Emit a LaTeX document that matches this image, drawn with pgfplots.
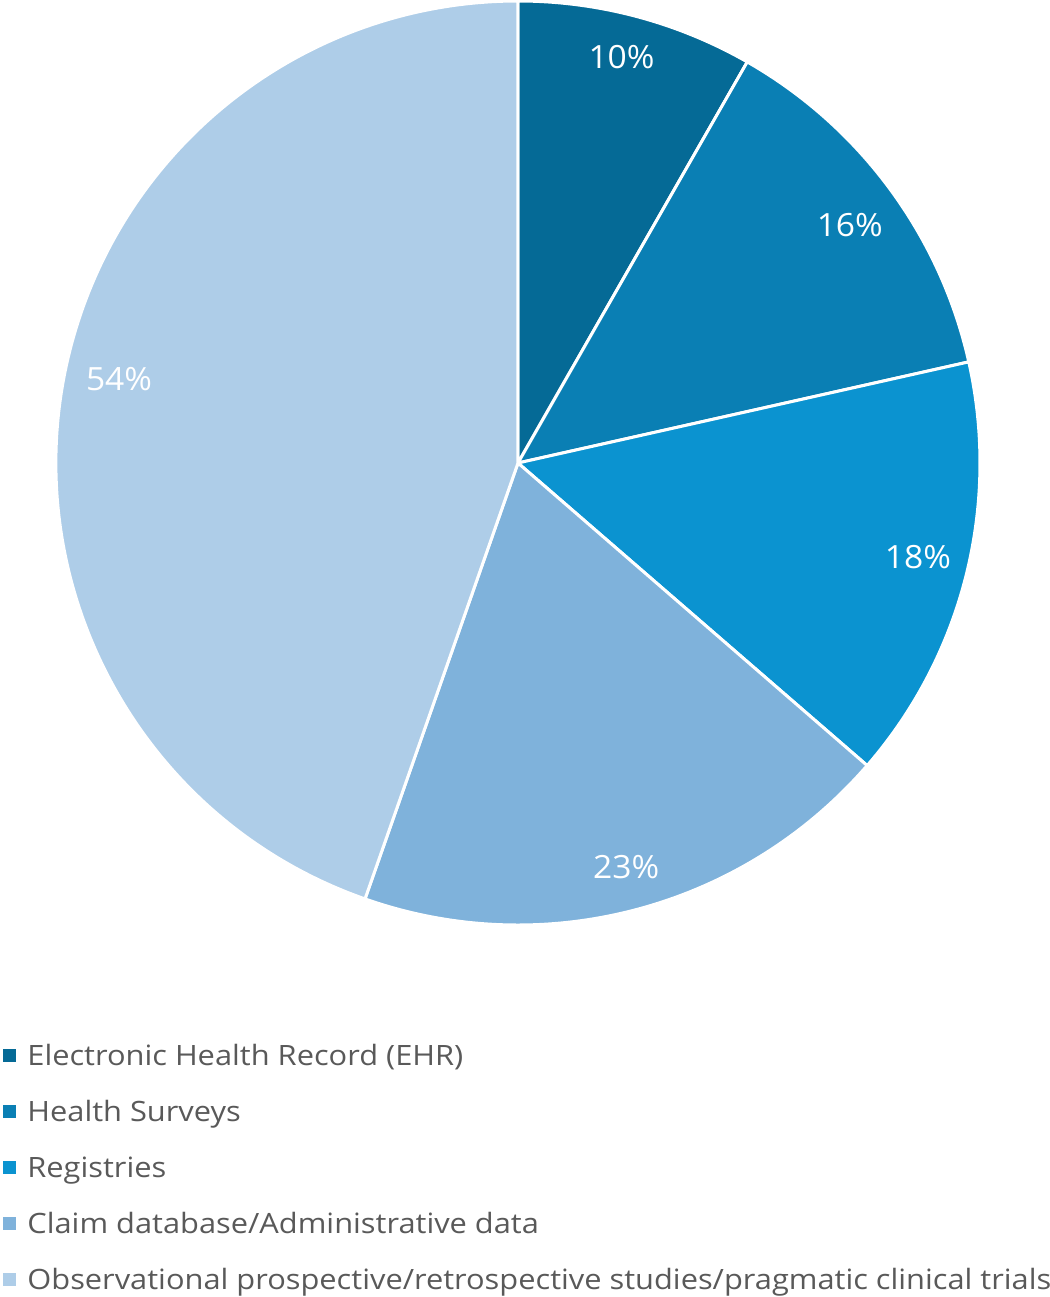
\documentclass[border=0pt]{standalone}
\usepackage{pgfplots}
\pgfplotsset{compat=1.18}
\usepackage{pgfplotstable}
\usepackage{fontspec}
\setmainfont{Open Sans}
\newfontfamily\legendfont[FakeStretch=1.1]{Open Sans}
\newfontfamily\sharefont[FakeStretch=1.05]{Open Sans}

\definecolor{sliceA}{HTML}{056A96}
\definecolor{sliceB}{HTML}{0A7FB4}
\definecolor{sliceC}{HTML}{0B93D0}
\definecolor{sliceD}{HTML}{7FB2DB}
\definecolor{sliceE}{HTML}{AECDE8}
\definecolor{legendgrey}{HTML}{595959}

% share of studies by data source (labels show the raw shares);
% lr/la give the polar position of each share label (radius fraction, angle)
\pgfplotstableread[col sep=comma]{
share,colour,lr,la,name
10,sliceA,0.9076,75.7,Electronic Health Record (EHR)
16,sliceB,0.8833,35.6,Health Surveys
18,sliceC,0.8894,-13.2,Registries
23,sliceD,0.9045,-75.0,Claim database/Administrative data
54,sliceE,0.8825,168.1,Observational prospective/retrospective studies/pragmatic clinical trials
}\piedata

\begin{document}
\begin{tikzpicture}
% total of all shares
\gdef\total{0}
\pgfplotstablegetrowsof{\piedata}
\pgfmathtruncatemacro\lastrow{\pgfplotsretval-1}
\foreach \i in {0,...,\lastrow}{
  \pgfplotstablegetelem{\i}{share}\of\piedata
  \pgfmathparse{\total+\pgfplotsretval}\xdef\total{\pgfmathresult}
}
% start and end angle of each wedge, clockwise from the top
\gdef\cum{0}
\foreach \i in {0,...,\lastrow}{
  \pgfplotstablegetelem{\i}{share}\of\piedata
  \edef\v{\pgfplotsretval}
  \pgfmathsetmacro\a{90-360*(\cum/\total)}
  \pgfmathparse{\cum+\v}\xdef\cum{\pgfmathresult}
  \pgfmathsetmacro\b{90-360*(\cum/\total)}
  \expandafter\xdef\csname pieA\i\endcsname{\a}
  \expandafter\xdef\csname pieB\i\endcsname{\b}
  \expandafter\xdef\csname pieV\i\endcsname{\v}
  \pgfplotstablegetelem{\i}{colour}\of\piedata
  \expandafter\xdef\csname pieC\i\endcsname{\pgfplotsretval}
  \pgfplotstablegetelem{\i}{lr}\of\piedata
  \expandafter\xdef\csname pieR\i\endcsname{\pgfplotsretval}
  \pgfplotstablegetelem{\i}{la}\of\piedata
  \expandafter\xdef\csname pieM\i\endcsname{\pgfplotsretval}
  \pgfplotstablegetelem{\i}{name}\of\piedata
  \expandafter\xdef\csname pieN\i\endcsname{\pgfplotsretval}
}
\begin{axis}[
  at={(0,0)}, anchor=origin,
  x=231pt, y=231pt,
  xmin=-1, xmax=1, ymin=-1, ymax=1,
  hide axis, clip=false,
]
\pgfplotsinvokeforeach{0,...,\lastrow}{
  \edef\wedge{\noexpand\fill[fill=\csname pieC#1\endcsname, draw=white, line width=1.5pt, line join=round]
    (axis cs:0,0) -- (axis cs:{cos(\csname pieA#1\endcsname)},{sin(\csname pieA#1\endcsname)})
    arc[start angle=\csname pieA#1\endcsname, end angle=\csname pieB#1\endcsname, radius=231pt] -- cycle;}
  \wedge
}
\pgfplotsinvokeforeach{0,...,\lastrow}{
  \edef\share{\noexpand\node[text=white, inner sep=0pt, font=\noexpand\sharefont\noexpand\fontsize{16}{19}\noexpand\selectfont]
    at (axis cs:{\csname pieR#1\endcsname*cos(\csname pieM#1\endcsname)},{\csname pieR#1\endcsname*sin(\csname pieM#1\endcsname)})
    {\csname pieV#1\endcsname\noexpand\%};}
  \share
}
\end{axis}
% legend below the pie
\foreach \i in {0,...,\lastrow}{
  \pgfmathsetmacro\yb{-301-28*\i}
  \edef\c{\csname pieC\i\endcsname}
  \fill[fill=\c] (-257.5pt,\yb pt+1.75pt) rectangle ++(6.5pt,6.5pt);
  \node[anchor=base west, inner sep=0pt, text=legendgrey, font=\legendfont\fontsize{14}{16}\selectfont]
    at (-245.5pt,\yb pt) {\csname pieN\i\endcsname};
}
\pgfresetboundingbox
\path (-259pt,231.5pt) rectangle (266pt,-417pt);
\end{tikzpicture}
\end{document}
